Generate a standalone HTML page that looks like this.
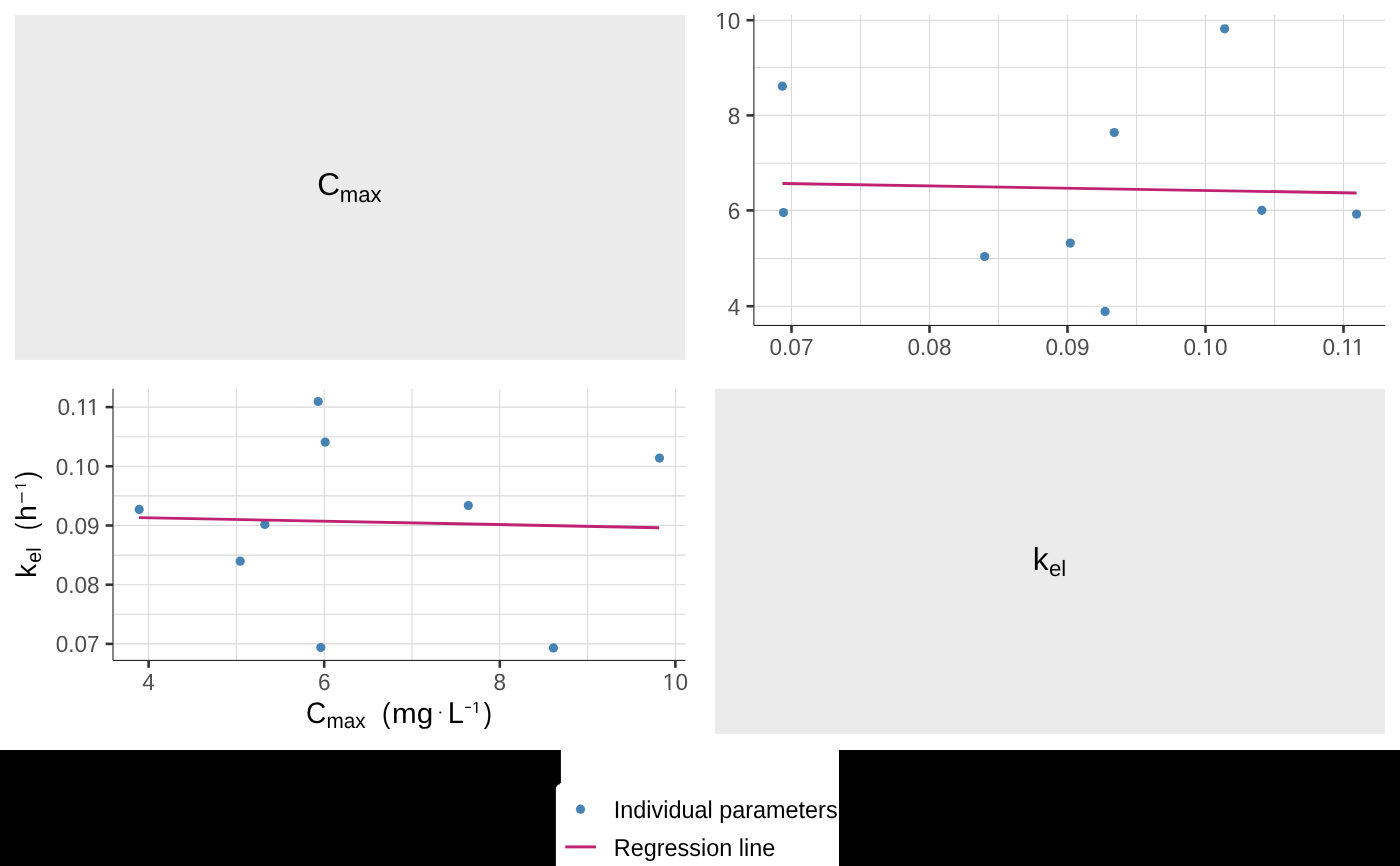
<!DOCTYPE html>
<html><head><meta charset="utf-8"><style>
html,body{margin:0;padding:0;background:#fff;width:1400px;height:866px;overflow:hidden}
svg{display:block;will-change:transform;text-rendering:geometricPrecision}
text{font-family:"Liberation Sans", sans-serif}
</style></head><body>
<svg width="1400" height="866" viewBox="0 0 1400 866">
<rect width="1400" height="866" fill="#fff"/>
<rect x="14.8" y="14.8" width="670.2" height="345.1" fill="#EBEBEB"/>
<rect x="714.8" y="388.8" width="670.2" height="345.0" fill="#EBEBEB"/>
<line x1="791.50" y1="14.8" x2="791.50" y2="325.43" stroke="#D9D9D9" stroke-width="1.07"/>
<line x1="860.50" y1="14.8" x2="860.50" y2="325.43" stroke="#D9D9D9" stroke-width="1.07"/>
<line x1="929.50" y1="14.8" x2="929.50" y2="325.43" stroke="#D9D9D9" stroke-width="1.07"/>
<line x1="998.50" y1="14.8" x2="998.50" y2="325.43" stroke="#D9D9D9" stroke-width="1.07"/>
<line x1="1067.50" y1="14.8" x2="1067.50" y2="325.43" stroke="#D9D9D9" stroke-width="1.07"/>
<line x1="1136.50" y1="14.8" x2="1136.50" y2="325.43" stroke="#D9D9D9" stroke-width="1.07"/>
<line x1="1205.50" y1="14.8" x2="1205.50" y2="325.43" stroke="#D9D9D9" stroke-width="1.07"/>
<line x1="1274.50" y1="14.8" x2="1274.50" y2="325.43" stroke="#D9D9D9" stroke-width="1.07"/>
<line x1="1343.50" y1="14.8" x2="1343.50" y2="325.43" stroke="#D9D9D9" stroke-width="1.07"/>
<line x1="753.9" y1="306.20" x2="1385.2" y2="306.20" stroke="#D9D9D9" stroke-width="1.07"/>
<line x1="753.9" y1="258.50" x2="1385.2" y2="258.50" stroke="#D9D9D9" stroke-width="1.07"/>
<line x1="753.9" y1="210.40" x2="1385.2" y2="210.40" stroke="#D9D9D9" stroke-width="1.07"/>
<line x1="753.9" y1="163.20" x2="1385.2" y2="163.20" stroke="#D9D9D9" stroke-width="1.07"/>
<line x1="753.9" y1="115.40" x2="1385.2" y2="115.40" stroke="#D9D9D9" stroke-width="1.07"/>
<line x1="753.9" y1="67.50" x2="1385.2" y2="67.50" stroke="#D9D9D9" stroke-width="1.07"/>
<line x1="753.9" y1="20.20" x2="1385.2" y2="20.20" stroke="#D9D9D9" stroke-width="1.07"/>
<line x1="148.60" y1="388.8" x2="148.60" y2="660.4" stroke="#D9D9D9" stroke-width="1.07"/>
<line x1="236.40" y1="388.8" x2="236.40" y2="660.4" stroke="#D9D9D9" stroke-width="1.07"/>
<line x1="324.20" y1="388.8" x2="324.20" y2="660.4" stroke="#D9D9D9" stroke-width="1.07"/>
<line x1="412.00" y1="388.8" x2="412.00" y2="660.4" stroke="#D9D9D9" stroke-width="1.07"/>
<line x1="499.80" y1="388.8" x2="499.80" y2="660.4" stroke="#D9D9D9" stroke-width="1.07"/>
<line x1="587.60" y1="388.8" x2="587.60" y2="660.4" stroke="#D9D9D9" stroke-width="1.07"/>
<line x1="675.40" y1="388.8" x2="675.40" y2="660.4" stroke="#D9D9D9" stroke-width="1.07"/>
<line x1="113.0" y1="643.90" x2="685.3" y2="643.90" stroke="#D9D9D9" stroke-width="1.07"/>
<line x1="113.0" y1="614.30" x2="685.3" y2="614.30" stroke="#D9D9D9" stroke-width="1.07"/>
<line x1="113.0" y1="584.70" x2="685.3" y2="584.70" stroke="#D9D9D9" stroke-width="1.07"/>
<line x1="113.0" y1="555.10" x2="685.3" y2="555.10" stroke="#D9D9D9" stroke-width="1.07"/>
<line x1="113.0" y1="525.50" x2="685.3" y2="525.50" stroke="#D9D9D9" stroke-width="1.07"/>
<line x1="113.0" y1="495.90" x2="685.3" y2="495.90" stroke="#D9D9D9" stroke-width="1.07"/>
<line x1="113.0" y1="466.30" x2="685.3" y2="466.30" stroke="#D9D9D9" stroke-width="1.07"/>
<line x1="113.0" y1="436.70" x2="685.3" y2="436.70" stroke="#D9D9D9" stroke-width="1.07"/>
<line x1="113.0" y1="407.10" x2="685.3" y2="407.10" stroke="#D9D9D9" stroke-width="1.07"/>
<circle cx="782.4" cy="86.2" r="4.6" fill="#4682B4"/>
<circle cx="783.5" cy="212.6" r="4.6" fill="#4682B4"/>
<circle cx="984.65" cy="256.5" r="4.6" fill="#4682B4"/>
<circle cx="1070.3" cy="243.1" r="4.6" fill="#4682B4"/>
<circle cx="1105.1" cy="311.4" r="4.6" fill="#4682B4"/>
<circle cx="1114.25" cy="132.6" r="4.6" fill="#4682B4"/>
<circle cx="1224.6" cy="28.8" r="4.6" fill="#4682B4"/>
<circle cx="1261.8" cy="210.3" r="4.6" fill="#4682B4"/>
<circle cx="1356.6" cy="214.1" r="4.6" fill="#4682B4"/>
<circle cx="553.4" cy="647.9" r="4.6" fill="#4682B4"/>
<circle cx="320.8" cy="647.5" r="4.6" fill="#4682B4"/>
<circle cx="240.2" cy="561.2" r="4.6" fill="#4682B4"/>
<circle cx="264.8" cy="524.5" r="4.6" fill="#4682B4"/>
<circle cx="139.2" cy="509.4" r="4.6" fill="#4682B4"/>
<circle cx="468.3" cy="505.5" r="4.6" fill="#4682B4"/>
<circle cx="659.5" cy="458.1" r="4.6" fill="#4682B4"/>
<circle cx="325.2" cy="442.1" r="4.6" fill="#4682B4"/>
<circle cx="318.2" cy="401.5" r="4.6" fill="#4682B4"/>
<line x1="782.5" y1="183.5" x2="1356.6" y2="193.0" stroke="#BE2271" stroke-width="2.9"/>
<line x1="139.1" y1="517.6" x2="659.1" y2="527.7" stroke="#BE2271" stroke-width="2.9"/>
<path d="M753.9,14.8 V325.43 H1385.2" fill="none" stroke="#000" stroke-width="0.95" stroke-linejoin="round"/>
<path d="M113.0,388.8 V660.4 H685.3" fill="none" stroke="#000" stroke-width="0.95" stroke-linejoin="round"/>
<line x1="791.50" y1="325.43" x2="791.50" y2="332.83" stroke="#333333" stroke-width="2.6"/>
<g transform="translate(791.50,355) scale(0.965,1)"><text font-size="23.4" fill="#4D4D4D" text-anchor="middle">0.07</text></g>
<line x1="929.50" y1="325.43" x2="929.50" y2="332.83" stroke="#333333" stroke-width="2.6"/>
<g transform="translate(929.50,355) scale(0.965,1)"><text font-size="23.4" fill="#4D4D4D" text-anchor="middle">0.08</text></g>
<line x1="1067.50" y1="325.43" x2="1067.50" y2="332.83" stroke="#333333" stroke-width="2.6"/>
<g transform="translate(1067.50,355) scale(0.965,1)"><text font-size="23.4" fill="#4D4D4D" text-anchor="middle">0.09</text></g>
<line x1="1205.50" y1="325.43" x2="1205.50" y2="332.83" stroke="#333333" stroke-width="2.6"/>
<g transform="translate(1205.50,355) scale(0.965,1)"><text font-size="23.4" fill="#4D4D4D" text-anchor="middle">0.10</text><rect x="-2.02" y="-2.30" width="4.65" height="2.85" fill="#fff"/><rect x="4.70" y="-2.30" width="4.47" height="2.85" fill="#fff"/></g>
<line x1="1343.50" y1="325.43" x2="1343.50" y2="332.83" stroke="#333333" stroke-width="2.6"/>
<g transform="translate(1343.50,355) scale(0.965,1)"><text font-size="23.4" fill="#4D4D4D" text-anchor="middle">0.11</text><rect x="-1.16" y="-2.30" width="4.65" height="2.85" fill="#fff"/><rect x="5.56" y="-2.30" width="4.47" height="2.85" fill="#fff"/><rect x="10.12" y="-2.30" width="4.65" height="2.85" fill="#fff"/><rect x="16.84" y="-2.30" width="4.47" height="2.85" fill="#fff"/></g>
<line x1="746.5" y1="20.20" x2="753.9" y2="20.20" stroke="#333333" stroke-width="2.6"/>
<g transform="translate(740.40,29) scale(0.965,1)"><text font-size="23.4" fill="#4D4D4D" text-anchor="end">10</text><rect x="-24.80" y="-2.30" width="4.65" height="2.85" fill="#fff"/><rect x="-18.08" y="-2.30" width="4.47" height="2.85" fill="#fff"/></g>
<line x1="746.5" y1="115.40" x2="753.9" y2="115.40" stroke="#333333" stroke-width="2.6"/>
<g transform="translate(740.40,124) scale(0.965,1)"><text font-size="23.4" fill="#4D4D4D" text-anchor="end">8</text></g>
<line x1="746.5" y1="210.40" x2="753.9" y2="210.40" stroke="#333333" stroke-width="2.6"/>
<g transform="translate(740.40,219) scale(0.965,1)"><text font-size="23.4" fill="#4D4D4D" text-anchor="end">6</text></g>
<line x1="746.5" y1="306.20" x2="753.9" y2="306.20" stroke="#333333" stroke-width="2.6"/>
<g transform="translate(740.40,315) scale(0.965,1)"><text font-size="23.4" fill="#4D4D4D" text-anchor="end">4</text></g>
<line x1="148.60" y1="660.4" x2="148.60" y2="667.8" stroke="#333333" stroke-width="2.6"/>
<g transform="translate(148.60,690) scale(0.965,1)"><text font-size="23.4" fill="#4D4D4D" text-anchor="middle">4</text></g>
<line x1="324.20" y1="660.4" x2="324.20" y2="667.8" stroke="#333333" stroke-width="2.6"/>
<g transform="translate(324.20,690) scale(0.965,1)"><text font-size="23.4" fill="#4D4D4D" text-anchor="middle">6</text></g>
<line x1="499.80" y1="660.4" x2="499.80" y2="667.8" stroke="#333333" stroke-width="2.6"/>
<g transform="translate(499.80,690) scale(0.965,1)"><text font-size="23.4" fill="#4D4D4D" text-anchor="middle">8</text></g>
<line x1="675.40" y1="660.4" x2="675.40" y2="667.8" stroke="#333333" stroke-width="2.6"/>
<g transform="translate(675.40,690) scale(0.965,1)"><text font-size="23.4" fill="#4D4D4D" text-anchor="middle">10</text><rect x="-11.78" y="-2.30" width="4.65" height="2.85" fill="#fff"/><rect x="-5.06" y="-2.30" width="4.47" height="2.85" fill="#fff"/></g>
<line x1="105.6" y1="407.10" x2="113.0" y2="407.10" stroke="#333333" stroke-width="2.6"/>
<g transform="translate(99.65,415) scale(0.965,1)"><text font-size="23.4" fill="#4D4D4D" text-anchor="end">0.11</text><rect x="-23.06" y="-2.30" width="4.65" height="2.85" fill="#fff"/><rect x="-16.34" y="-2.30" width="4.47" height="2.85" fill="#fff"/><rect x="-11.78" y="-2.30" width="4.65" height="2.85" fill="#fff"/><rect x="-5.06" y="-2.30" width="4.47" height="2.85" fill="#fff"/></g>
<line x1="105.6" y1="466.30" x2="113.0" y2="466.30" stroke="#333333" stroke-width="2.6"/>
<g transform="translate(99.65,475) scale(0.965,1)"><text font-size="23.4" fill="#4D4D4D" text-anchor="end">0.10</text><rect x="-24.80" y="-2.30" width="4.65" height="2.85" fill="#fff"/><rect x="-18.08" y="-2.30" width="4.47" height="2.85" fill="#fff"/></g>
<line x1="105.6" y1="525.50" x2="113.0" y2="525.50" stroke="#333333" stroke-width="2.6"/>
<g transform="translate(99.65,534) scale(0.965,1)"><text font-size="23.4" fill="#4D4D4D" text-anchor="end">0.09</text></g>
<line x1="105.6" y1="584.70" x2="113.0" y2="584.70" stroke="#333333" stroke-width="2.6"/>
<g transform="translate(99.65,593) scale(0.965,1)"><text font-size="23.4" fill="#4D4D4D" text-anchor="end">0.08</text></g>
<line x1="105.6" y1="643.90" x2="113.0" y2="643.90" stroke="#333333" stroke-width="2.6"/>
<g transform="translate(99.65,652) scale(0.965,1)"><text font-size="23.4" fill="#4D4D4D" text-anchor="end">0.07</text></g>
<text x="317.23" y="195.20" font-size="31.7" fill="#000">C</text>
<text x="339.80" y="202.00" font-size="22.2" fill="#000">max</text>
<text x="1032.79" y="569.85" font-size="31.7" fill="#000">k</text>
<text x="1048.96" y="575.60" font-size="22.2" fill="#000">el</text>
<text transform="translate(306.08,722.66) scale(0.9216,0.9767)" font-size="30.4" fill="#000">C</text>
<text transform="translate(326.43,727.85) scale(0.9804,1.0000)" font-size="21.2" fill="#000">max</text>
<text transform="translate(381.95,722.87) scale(0.8258,0.9487)" font-size="30.4" fill="#000">(</text>
<text transform="translate(392.05,723.09) scale(0.9752,0.9289)" font-size="30.4" fill="#000">mg</text>
<text transform="translate(447.68,722.80) scale(0.9593,0.9943)" font-size="30.4" fill="#000">L</text>
<text transform="translate(483.80,722.85) scale(0.8125,0.9522)" font-size="30.4" fill="#000">)</text>
<text transform="translate(35.80,577.69) rotate(-90) scale(0.9440,0.9857)" font-size="29.0" fill="#000">k</text>
<text transform="translate(40.65,562.63) rotate(-90) scale(0.9309,0.9836)" font-size="20.8" fill="#000">el</text>
<text transform="translate(35.97,530.25) rotate(-90) scale(0.7742,1.0056)" font-size="29.0" fill="#000">(</text>
<text transform="translate(36.00,520.96) rotate(-90) scale(0.9796,0.9905)" font-size="29.0" fill="#000">h</text>
<text transform="translate(35.97,479.21) rotate(-90) scale(0.8533,1.0056)" font-size="29.0" fill="#000">)</text>
<g transform="translate(472.06,713)"><text font-size="16" fill="#000">1</text><rect x="0.67" y="-1.75" width="3.35" height="2.30" fill="#fff"/><rect x="5.44" y="-1.75" width="3.23" height="2.30" fill="#fff"/></g>
<g transform="translate(26,489.90) rotate(-90)"><text font-size="15.6" fill="#000">1</text><rect x="0.64" y="-1.72" width="3.28" height="2.27" fill="#fff"/><rect x="5.30" y="-1.72" width="3.16" height="2.27" fill="#fff"/></g>
<circle cx="440.3" cy="712.5" r="1.05" fill="#000"/>
<line x1="464.9" y1="707.4" x2="471.1" y2="707.4" stroke="#000" stroke-width="1.2"/>
<line x1="21.9" y1="492.3" x2="21.9" y2="502.7" stroke="#000" stroke-width="1.2"/>
<rect x="0" y="750" width="1400" height="116" fill="#000"/>
<path d="M560.9,750 H839 V866 H555.9 V786.7 H556.85 V785.6 H558 V784.5 H559.8 V783.3 H560.9 Z" fill="#fff"/>
<circle cx="580.5" cy="809.2" r="4.6" fill="#4682B4"/>
<line x1="565.3" y1="846.9" x2="596" y2="846.9" stroke="#BE2271" stroke-width="2.9"/>
<text transform="translate(613.74,817.90) scale(0.96,1)" font-size="24.4" fill="#000">Individual parameters</text>
<text transform="translate(613.78,855.80) scale(0.96,1)" font-size="24.4" fill="#000">Regression line</text>
</svg>
</body></html>
